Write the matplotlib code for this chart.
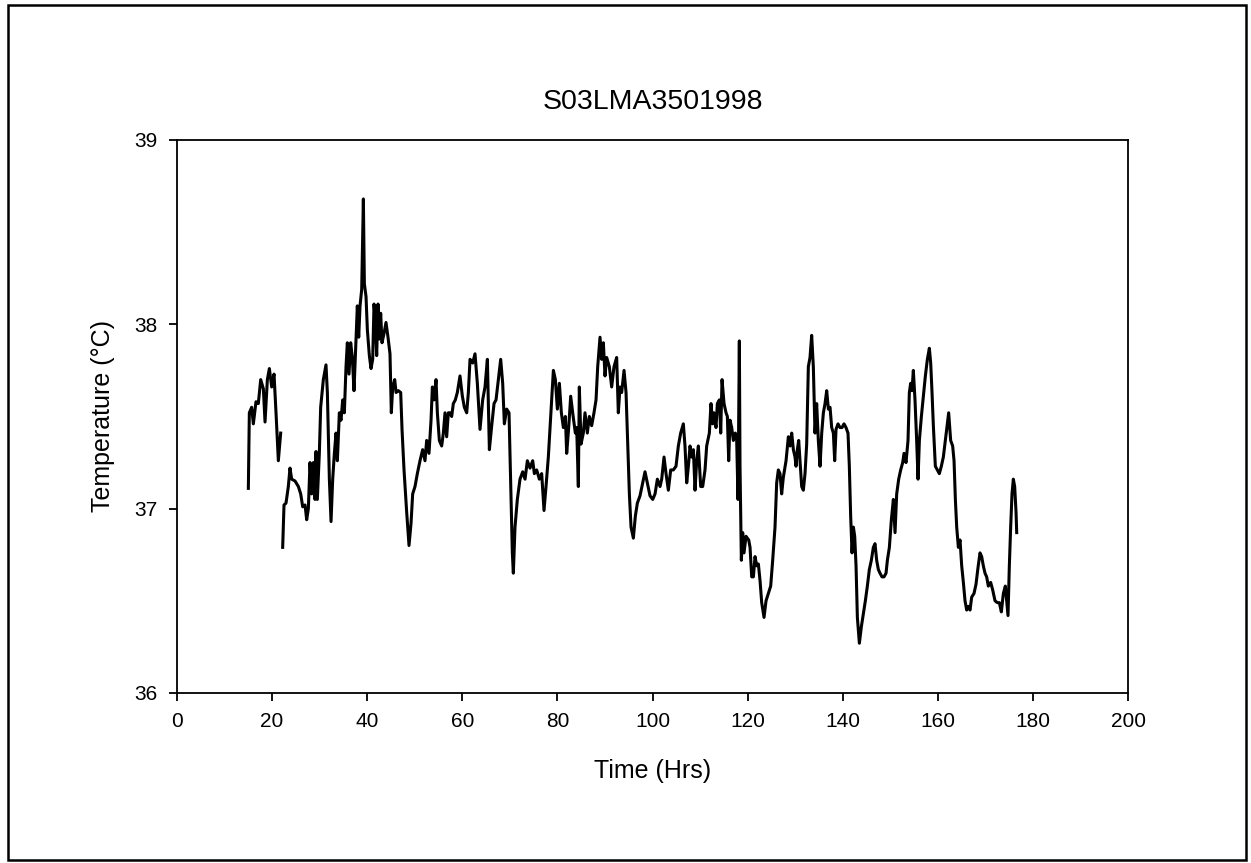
import numpy as np
import matplotlib
matplotlib.use("Agg")
import matplotlib.pyplot as plt
from matplotlib.patches import Rectangle

plt.rcParams['font.family'] = ['Liberation Sans', 'DejaVu Sans']

# time (hrs) and temperature (deg C); NaN marks the gap in the record
hours = [15.00, 15.21, 15.70, 16.05, 16.61, 17.10, 17.60, 18.16, 18.51, 19.00,
         19.42, 19.91, 20.40, 20.82, 21.31, 21.80, 22.00,
         22.22, 22.50, 22.92, 23.41, 23.76, 24.11, 24.82, 25.52, 26.01, 26.43,
         26.92, 27.27, 27.62, 27.97, 28.32, 28.67, 29.02, 29.23, 29.51, 29.93,
         30.21, 30.77, 31.33, 31.62, 32.04, 32.39, 32.74, 33.09, 33.44, 33.72,
         34.14, 34.49, 34.84, 35.19, 35.54, 35.82, 36.17, 36.52, 36.87, 37.22,
         37.58, 37.92, 38.21, 38.49, 38.84, 39.19, 39.40, 39.75, 40.03, 40.45,
         40.80, 41.15, 41.43, 41.71, 41.99, 42.27, 42.55, 42.83, 43.11, 43.53,
         43.95, 44.37, 44.79, 45.07, 45.36, 45.78, 46.06, 46.55, 47.04, 47.32,
         47.74, 48.30, 48.79, 49.21, 49.56, 50.05, 50.54, 51.10, 51.66, 52.15,
         52.50, 52.99, 53.42, 53.70, 54.05, 54.47, 54.75, 55.17, 55.66, 56.01,
         56.36, 56.71, 57.06, 57.41, 57.76, 58.11, 58.53, 58.95, 59.51, 60.01,
         60.43, 60.92, 61.27, 61.62, 62.18, 62.67,
         63.16, 63.72, 64.28, 64.77, 65.27, 65.69, 66.18, 66.67, 67.09, 67.58,
         68.07, 68.49, 68.84, 69.33, 69.82, 70.17, 70.52, 70.73, 71.08, 71.57,
         72.13, 72.70, 73.19, 73.68, 74.24, 74.80, 75.15, 75.64, 76.20, 76.69,
         77.18, 77.60, 78.09, 78.58, 79.15, 79.57, 79.99, 80.41, 80.83, 81.25,
         81.67, 81.95, 82.37, 82.79, 83.21, 83.77, 84.05, 84.40, 84.61, 84.96,
         85.45, 85.80, 86.29, 86.71, 87.20, 87.69, 88.12, 88.47, 88.96, 89.31,
         89.66, 90.01, 90.36, 90.92, 91.41, 91.90, 92.46, 92.81, 93.16, 93.51,
         94.01, 94.43, 94.71, 95.13, 95.48, 95.97, 96.39, 96.81, 97.37, 97.93,
         98.42, 98.91, 99.47, 100.04, 100.53, 101.02, 101.58, 101.93, 102.42,
         102.84, 103.33, 103.82, 104.38, 104.94, 105.43, 105.92, 106.48, 106.83,
         107.19, 107.54, 107.89, 108.24, 108.59, 108.94, 109.29, 109.64, 110.13,
         110.55, 111.04, 111.39, 111.95, 112.30, 112.65, 112.93, 113.35, 113.64,
         114.06, 114.34, 114.62, 115.04, 115.46, 115.74, 116.02, 116.30, 116.65,
         117.00, 117.42, 117.70, 117.98, 118.26, 118.40, 118.54, 118.68, 118.96,
         119.24, 119.66, 120.23, 120.51, 120.86, 121.21, 121.56, 121.91, 122.26,
         122.61, 122.96, 123.45, 123.87, 124.36, 124.85, 125.27, 125.76, 126.11,
         126.46, 126.81, 127.16, 127.51, 128.08, 128.57, 128.92, 129.27, 129.62,
         129.97, 130.18, 130.46, 130.74, 131.02, 131.37, 131.72, 132.07, 132.42,
         132.77, 133.12, 133.47, 133.82, 134.17, 134.52, 134.87, 135.23, 135.58,
         135.93, 136.28, 136.63, 136.98, 137.33, 137.68, 138.03, 138.31, 138.59,
         139.01, 139.43, 139.85, 140.27, 140.69, 141.11, 141.39, 141.67, 141.96,
         142.24, 142.52, 142.80, 143.08, 143.50, 143.92, 144.34, 144.76, 145.18,
         145.60, 146.02, 146.44, 146.79, 147.14, 147.49, 147.84, 148.26, 148.68,
         149.11, 149.39, 149.81, 150.23, 150.65, 151.00, 151.35, 151.77, 152.19,
         152.61, 152.89, 153.31, 153.73, 154.01, 154.29, 154.57, 154.85, 155.20,
         155.55, 155.84, 156.12, 156.54, 156.96, 157.38, 157.80, 158.22, 158.50,
         158.78, 159.06, 159.48, 159.90, 160.32, 160.74, 161.16, 161.72, 162.28,
         162.70, 163.12, 163.41, 163.69, 163.97, 164.32, 164.67, 165.02, 165.37,
         165.72, 166.07, 166.42, 166.77, 167.12, 167.61, 168.03, 168.45, 168.87,
         169.22, 169.57, 169.92, 170.27, 170.62, 171.11, 171.53, 172.03, 172.52,
         172.94, 173.36, 173.78, 174.20, 174.48, 174.76, 175.04, 175.32, 175.60,
         175.88, 176.16, 176.45, 176.59]

temps = [37.11, 37.52, 37.55, 37.46, 37.58, 37.57, 37.70, 37.65, 37.47, 37.70,
         37.76, 37.66, 37.73, 37.52, 37.26, 37.41, np.nan,
         36.79, 37.02, 37.03, 37.12, 37.22, 37.16, 37.15, 37.12, 37.08, 37.01,
         37.02, 36.94, 37.00, 37.25, 37.08, 37.25, 37.05, 37.31, 37.05, 37.30,
         37.55, 37.70, 37.78, 37.63, 37.16, 36.93, 37.16, 37.30, 37.41, 37.26,
         37.52, 37.48, 37.59, 37.52, 37.77, 37.90, 37.73, 37.90, 37.82, 37.64,
         37.88, 38.10, 37.93, 38.10, 38.19, 38.68, 38.22, 38.15, 37.97, 37.83,
         37.76, 37.81, 38.11, 38.02, 37.83, 38.11, 37.92, 38.06, 37.90, 37.95,
         38.01, 37.93, 37.84, 37.52, 37.66, 37.70, 37.63, 37.64, 37.63, 37.43,
         37.21, 36.98, 36.80, 36.92, 37.08, 37.12, 37.19, 37.26, 37.32, 37.26,
         37.37, 37.30, 37.48, 37.66, 37.59, 37.70, 37.52, 37.37, 37.34, 37.41,
         37.52, 37.39, 37.52, 37.52, 37.50, 37.57, 37.59, 37.63, 37.72, 37.61,
         37.55, 37.52, 37.63, 37.81, 37.79, 37.84,
         37.68, 37.43, 37.59, 37.66, 37.81, 37.32, 37.45, 37.57, 37.59, 37.70,
         37.81, 37.68, 37.46, 37.54, 37.52, 37.14, 36.76, 36.65, 36.90, 37.05,
         37.16, 37.20, 37.16, 37.26, 37.22, 37.26, 37.19, 37.21, 37.16, 37.19,
         36.99, 37.12, 37.28, 37.50, 37.75, 37.70, 37.54, 37.68, 37.52, 37.44,
         37.50, 37.30, 37.44, 37.61, 37.52, 37.41, 37.44, 37.12, 37.66, 37.35,
         37.41, 37.52, 37.41, 37.50, 37.45, 37.52, 37.59, 37.77, 37.93, 37.81,
         37.90, 37.72, 37.82, 37.77, 37.66, 37.77, 37.82, 37.52, 37.66, 37.63,
         37.75, 37.63, 37.41, 37.08, 36.90, 36.84, 36.96, 37.03, 37.07, 37.14,
         37.20, 37.14, 37.07, 37.05, 37.08, 37.16, 37.12, 37.16, 37.28,
         37.19, 37.10, 37.21, 37.21, 37.23, 37.34, 37.41, 37.46, 37.34,
         37.14, 37.23, 37.34, 37.28, 37.32, 37.10, 37.26, 37.34, 37.12,
         37.12, 37.21, 37.34, 37.41, 37.57, 37.46, 37.52, 37.44, 37.57,
         37.59, 37.41, 37.70, 37.57, 37.52, 37.50, 37.26, 37.48, 37.44,
         37.37, 37.41, 37.37, 37.05, 37.91, 37.23, 36.96, 36.72, 36.87,
         36.76, 36.85, 36.83, 36.79, 36.63, 36.63, 36.74, 36.69, 36.70,
         36.61, 36.49, 36.41, 36.50, 36.54, 36.58, 36.72, 36.90, 37.14,
         37.21, 37.19, 37.08, 37.17, 37.26, 37.39, 37.34, 37.41, 37.32,
         37.28, 37.23, 37.32, 37.37, 37.26, 37.12, 37.10, 37.19, 37.35,
         37.77, 37.82, 37.94, 37.77, 37.41, 37.57, 37.37, 37.23, 37.41,
         37.52, 37.57, 37.64, 37.54, 37.55, 37.44, 37.41, 37.26, 37.43,
         37.46, 37.44, 37.44, 37.46, 37.44, 37.41, 37.23, 36.96, 36.76,
         36.90, 36.85, 36.69, 36.41, 36.27, 36.36, 36.43, 36.50, 36.58,
         36.67, 36.72, 36.79, 36.81, 36.72, 36.67, 36.65, 36.63, 36.63,
         36.65, 36.72, 36.79, 36.94, 37.05, 36.87, 37.08, 37.16, 37.21,
         37.25, 37.30, 37.25, 37.37, 37.63, 37.68, 37.64, 37.75, 37.59,
         37.37, 37.16, 37.37, 37.50, 37.61, 37.72, 37.81, 37.87, 37.79,
         37.63, 37.45, 37.23, 37.21, 37.19, 37.23, 37.28, 37.40, 37.52,
         37.37, 37.34, 37.26, 37.05, 36.90, 36.79, 36.83, 36.69, 36.60,
         36.50, 36.45, 36.47, 36.45, 36.52, 36.54, 36.59, 36.68, 36.76,
         36.74, 36.69, 36.65, 36.63, 36.58, 36.60, 36.56, 36.50, 36.49,
         36.49, 36.44, 36.54, 36.58, 36.50, 36.42, 36.69, 36.90, 37.08,
         37.16, 37.12, 36.98, 36.87]

fig = plt.figure(figsize=(12.51, 8.63), dpi=100)
ax = fig.add_axes([0.1415, 0.197, 0.7602, 0.6408])

ax.plot(hours, temps, color="black", linewidth=2.2)

ax.set_xlim(0, 200)
ax.set_ylim(36, 39)
ax.set_xticks(np.arange(0, 201, 20))
ax.set_yticks([36, 37, 38, 39])
ax.tick_params(direction="out", length=6, width=1.3, labelsize=15, pad=8)
for s in ax.spines.values():
    s.set_linewidth(1.3)

ax.set_title("S03LMA3501998", fontsize=20.5, pad=22)
ax.set_xlabel("Time (Hrs)", fontsize=18, labelpad=20)
ax.set_ylabel("Temperature (\u00b0C)", fontsize=18, labelpad=14)

# outer frame round the whole chart
fig.patches.append(Rectangle((0.006, 0.004), 0.99, 0.99, transform=fig.transFigure,
                             fill=False, edgecolor="black", linewidth=1.8))

fig.savefig("out.png", dpi=100)
